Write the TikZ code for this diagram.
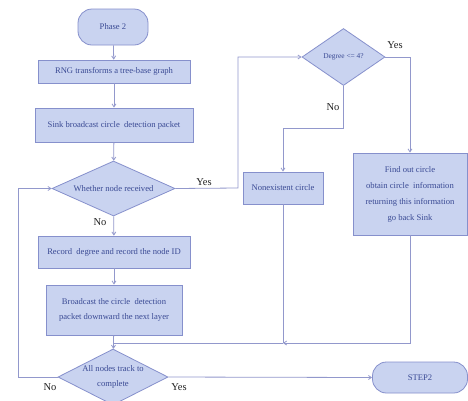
\documentclass[tikz,border=0pt]{standalone}
\usepackage{fontspec}
\setmainfont{Liberation Serif}
\usetikzlibrary{shapes.geometric,arrows.meta}
\definecolor{boxfill}{HTML}{C9D3F0}
\definecolor{boxline}{HTML}{8690CC}
\definecolor{conn}{HTML}{9298CC}
\definecolor{boxtext}{HTML}{3A4A94}
\definecolor{lbl}{HTML}{202020}
\tikzset{
  base/.style={draw=boxline, fill=boxfill, line width=0.8pt, text=boxtext, font=\fontsize{8.6}{15.5}\selectfont, align=center, inner sep=0pt},
  procbox/.style={base, rectangle},
  termbox/.style={base, rectangle, rounded corners=14pt},
  decbox/.style={base, diamond},
  conline/.style={draw=conn, line width=0.8pt},
  arr/.style={conline, -{Straight Barb[length=3pt,width=4pt]}},
  lab/.style={text=lbl, font=\fontsize{10.5}{12}\selectfont, inner sep=0pt}
}
\begin{document}
\begin{tikzpicture}[x=1pt,y=-1pt]
\useasboundingbox (0,0) rectangle (468,400);
\clip (0,0) rectangle (468,400);
\fill[white] (0,0) rectangle (468,400);
% nodes
\node[termbox, minimum width=70pt, minimum height=36pt] (phase) at (113,27) {Phase 2};
\node[procbox, minimum width=152pt, minimum height=23pt] (rng) at (114,71.5) {RNG transforms a tree-base graph};
\node[procbox, minimum width=158pt, minimum height=34pt] (sink) at (114,125) {\raisebox{-3pt}{Sink broadcast circle\ \ detection packet}};
\node[decbox, aspect=2.24, minimum width=123pt, minimum height=55pt] (whether) at (113.5,188.5) {Whether node received};
\node[procbox, minimum width=152pt, minimum height=32pt] (record) at (114,252) {Record\ \ degree and record the node ID};
\node[procbox, minimum width=136pt, minimum height=50pt] (bcast) at (114,310) {Broadcast the circle\ \ detection\\packet downward the next layer};
\node[decbox, aspect=1.96, minimum width=110pt, minimum height=56pt, font=\fontsize{8.6}{14.5}\selectfont] (allnodes) at (113,377) {All nodes track to\\complete};
\node[decbox, aspect=1.46, minimum width=83pt, minimum height=57pt, font=\fontsize{7.4}{8.5}\selectfont] (degree) at (343.5,57) {Degree <= 4?};
\node[procbox, minimum width=80pt, minimum height=32pt] (nonex) at (283,188) {Nonexistent circle};
\node[procbox, minimum width=114pt, minimum height=82pt, font=\fontsize{8.6}{16}\selectfont] (findout) at (410,194) {Find out circle\\obtain circle\ \ information\\returning this information\\go back Sink};
\node[termbox, minimum width=95pt, minimum height=31pt] (step2) at (420,377.5) {STEP2};
% helper coordinates
\coordinate (leftloop) at (18,377);
\coordinate (yesturn) at (238,188);
\coordinate (noturn) at (343.5,128);
\coordinate (j1) at (283,343);
\coordinate (j2) at (113,343);
% connectors
\draw[arr] (phase) -- (rng);
\draw[arr] (rng) -- (sink);
\draw[arr] (sink) -- (whether);
\draw[arr] (whether) -- (record);
\draw[arr] (record) -- (bcast);
\draw[arr] (bcast) -- (allnodes);
\draw[arr] (allnodes.west) -- (leftloop) |- (whether.west);
\draw[arr] (allnodes.east) -- (step2.west);
\draw[arr] (whether.east) -- (yesturn) |- (degree.west);
\draw[arr] (degree.east) -| (findout.north);
\draw[arr] (degree.south) -- (noturn) -| (nonex.north);
\draw[arr] (findout.south) |- (j1);
\draw[conline] (nonex.south) -- (j1);
\draw[conline] (j1) -- (j2);
% labels
\node[lab] (l1) at (100,222) {No};
\node[lab] (l2) at (204,182) {Yes};
\node[lab] (l3) at (395,45) {Yes};
\node[lab] (l4) at (333,107) {No};
\node[lab] (l5) at (50,387) {No};
\node[lab] (l6) at (179,387) {Yes};
\end{tikzpicture}
\end{document}
